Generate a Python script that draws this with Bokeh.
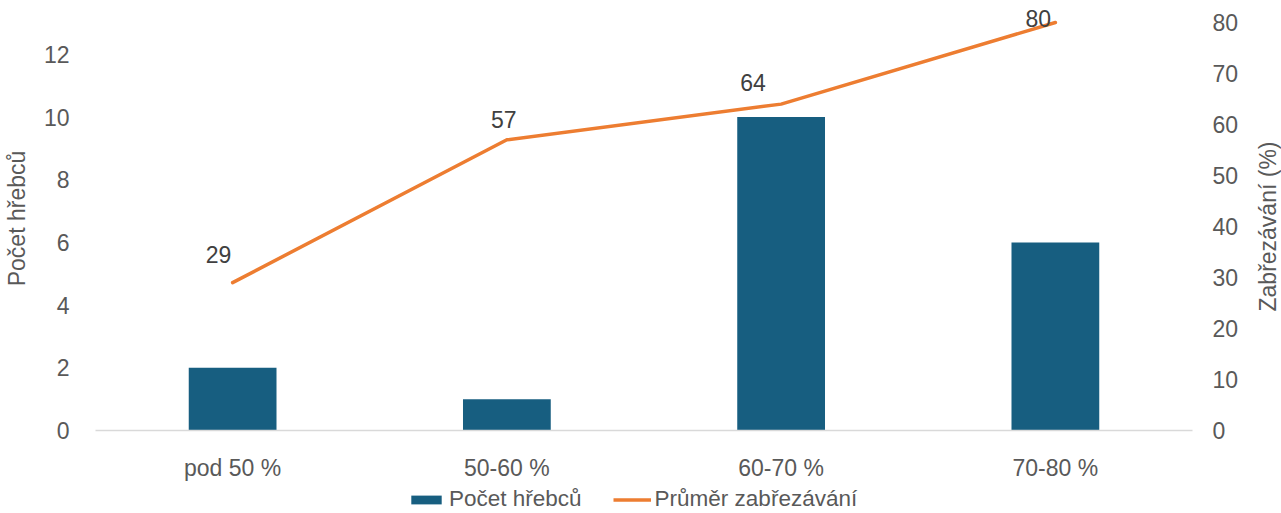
import math
from bokeh.plotting import figure
from bokeh.layouts import column, row
from bokeh.models import (LinearAxis, Range1d, FactorRange, Legend, LegendItem,
                          FixedTicker, ColumnDataSource, LabelSet, Label)
from bokeh.core.properties import value
from bokeh.embed import file_html
from bokeh.resources import INLINE

# ---- data ----
categories = ["pod 50 %", "50-60 %", "60-70 %", "70-80 %"]
stallion_counts = [2, 1, 10, 6]
avg_conception = [29, 57, 64, 80]
left_ticks = [0, 2, 4, 6, 8, 10, 12]
right_ticks = [0, 10, 20, 30, 40, 50, 60, 70, 80]

# label placement tweaks (screen px) as in the original chart
label_dx = [-14, -3, -28, -17]
label_dy = [28, 20, 22, 4]

FONT = "Liberation Sans"
FS = "23px"
TXT = "#595959"
BAR = "#175e80"
LINE = "#ed7d31"

src = ColumnDataSource(dict(
    cat=categories,
    count=stallion_counts,
    pct=avg_conception,
    pct_text=[str(v) for v in avg_conception],
    dx=label_dx,
    dy=label_dy,
))

p = figure(x_range=FactorRange(factors=categories), y_range=Range1d(0, 13.53),
           width=1242, height=484, output_backend="svg", toolbar_location=None,
           min_border_left=93, min_border_right=50, min_border_top=6,
           min_border_bottom=54)
p.outline_line_color = None
p.xgrid.grid_line_color = None
p.ygrid.grid_line_color = None
p.extra_y_ranges = {"pct": Range1d(0, 83.14)}

p.vbar(x="cat", top="count", width=0.32, source=src, fill_color=BAR, line_color=None)
p.line(x="cat", y="pct", source=src, y_range_name="pct",
       line_color=LINE, line_width=3.5, line_cap="round", line_join="round")

labels = LabelSet(x="cat", y="pct", text="pct_text", source=src, y_range_name="pct",
                  x_offset="dx", y_offset="dy", text_align="center",
                  text_baseline="middle", text_font=value(FONT),
                  text_font_size=value(FS), text_color=value("#404040"))
p.add_layout(labels)

# x axis
xa = p.xaxis[0]
xa.axis_line_color = "#d9d9d9"
xa.axis_line_width = 1.5
xa.major_tick_line_color = None
xa.minor_tick_line_color = None
xa.major_label_standoff = 18
xa.major_label_text_font = FONT
xa.major_label_text_font_size = FS
xa.major_label_text_color = TXT

# left axis
ya = p.yaxis[0]
ya.ticker = FixedTicker(ticks=left_ticks)
ya.axis_line_color = None
ya.major_tick_line_color = None
ya.minor_tick_line_color = None
ya.major_label_standoff = 20
ya.major_label_text_font = FONT
ya.major_label_text_font_size = FS
ya.major_label_text_color = TXT
ya.axis_label = "Počet hřebců"
ya.axis_label_text_font = FONT
ya.axis_label_text_font_size = FS
ya.axis_label_text_font_style = "normal"
ya.axis_label_text_color = TXT
ya.axis_label_standoff = 11

# right axis (tick labels only; its title is drawn in the strip to the right)
ra = LinearAxis(y_range_name="pct", ticker=FixedTicker(ticks=right_ticks))
ra.axis_line_color = None
ra.major_tick_line_color = None
ra.minor_tick_line_color = None
ra.major_label_standoff = 14
ra.major_label_text_font = FONT
ra.major_label_text_font_size = FS
ra.major_label_text_color = TXT
p.add_layout(ra, "right")

# right strip carrying the right axis title, reading bottom-to-top
rt = figure(width=39, height=484, x_range=Range1d(0, 1), y_range=Range1d(0, 1),
            output_backend="svg", toolbar_location=None,
            x_axis_location=None, y_axis_location=None,
            min_border_left=0, min_border_right=0, min_border_top=6, min_border_bottom=54)
rt.outline_line_color = None
rt.grid.visible = False
rt.add_layout(Label(x=25, y=204, x_units="screen", y_units="screen",
                    text="Zabřezávání (%)", angle=math.pi / 2,
                    text_align="center", text_baseline="middle",
                    text_font=FONT, text_font_size=FS, text_color=TXT))

# legend strip (separate figure so the legend is not clipped by the plot frame);
# its y range lies far from the data, so its renderers only feed the legend
lg = figure(x_range=p.x_range, y_range=Range1d(1000, 1001), width=1281, height=29,
            output_backend="svg", toolbar_location=None,
            x_axis_location=None, y_axis_location=None,
            min_border_left=93, min_border_right=0, min_border_top=0, min_border_bottom=0)
lg.outline_line_color = None
lg.grid.visible = False
leg_bar = lg.vbar(x="cat", top="count", width=0.32, source=src,
                  fill_color=BAR, line_color=None)
leg_line = lg.line(x="cat", y="pct", source=src,
                   line_color=LINE, line_width=3.5)

legend = Legend(items=[LegendItem(label="Počet hřebců", renderers=[leg_bar]),
                       LegendItem(label="Průměr zabřezávání", renderers=[leg_line])],
                orientation="horizontal", location=(314, 1),
                glyph_width=38, glyph_height=11, label_standoff=4, spacing=31,
                padding=0, margin=0, border_line_color=None,
                background_fill_alpha=0, label_text_font=FONT,
                label_text_font_size="22.5px", label_text_color=TXT)
lg.add_layout(legend, "center")

layout = column(row(p, rt, spacing=0), lg, spacing=0)
open("out.html", "w").write(file_html(layout, INLINE))
